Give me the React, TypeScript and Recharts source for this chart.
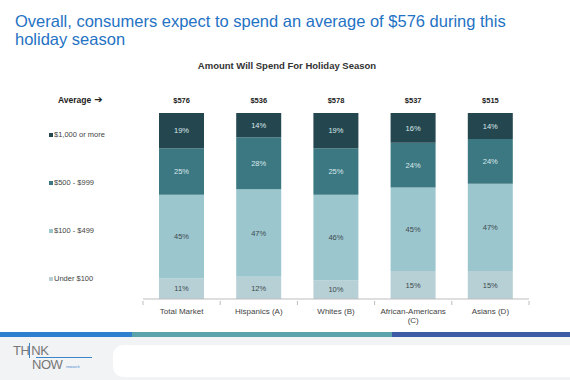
import { BarChart, Bar, XAxis, YAxis, LabelList } from 'recharts';

const categories = ['Total Market', 'Hispanics (A)', 'Whites (B)', 'African-Americans (C)', 'Asians (D)'];
const averages = ['$576', '$536', '$578', '$537', '$515'];
const under100 = [11, 12, 10, 15, 15];
const from100 = [45, 47, 46, 45, 47];
const from500 = [25, 28, 25, 24, 24];
const over1000 = [19, 14, 19, 16, 14];

const legendItems = [
  { name: '$1,000 or more', color: '#24474f' },
  { name: '$500 - $999', color: '#3b7882' },
  { name: '$100 - $499', color: '#9cc6ce' },
  { name: 'Under $100', color: '#b7d0d5' },
];

const data = categories.map((name, i) => ({
  name,
  avg: averages[i],
  under100: under100[i],
  from100: from100[i],
  from500: from500[i],
  over1000: over1000[i],
}));

const font = '"Liberation Sans", Arial, sans-serif';
const pct = (v: number) => `${v}%`;

function CategoryTick({ x, y, payload, index }: any) {
  const half = 386 / categories.length / 2;
  const lines = payload.value === 'African-Americans (C)' ? ['African-Americans', '(C)'] : [payload.value];
  return (
    <g>
      <line x1={x - half} x2={x - half} y1={y - 6} y2={y - 2} stroke="#bdbdbd" />
      {index === categories.length - 1 && (
        <line x1={x + half} x2={x + half} y1={y - 6} y2={y - 2} stroke="#bdbdbd" />
      )}
      {lines.map((l: string, k: number) => (
        <text key={k} x={x} y={y + 7 + k * 9} textAnchor="middle" fontSize={8} fill="#444" fontFamily={font}>
          {l}
        </text>
      ))}
    </g>
  );
}

function AvgTick({ x, y, payload }: any) {
  return (
    <text x={x} y={y} dy={-2} textAnchor="middle" fontSize={7.5} fontWeight="bold" fill="#222" fontFamily={font}>
      {payload.value}
    </text>
  );
}

export default function App() {
  return (
    <div style={{ position: 'absolute', left: 0, top: 0, width: 570, height: 380, background: '#fff', fontFamily: font, overflow: 'hidden' }}>
      <div style={{ position: 'absolute', left: 15, top: 12, fontSize: 16.5, lineHeight: '18px', color: '#1f72c4', width: 540 }}>
        Overall, consumers expect to spend an average of $576 during this
        <br />
        holiday season
      </div>
      <div style={{ position: 'absolute', left: 0, width: 574, top: 60, textAlign: 'center', fontSize: 9.5, fontWeight: 'bold', color: '#333' }}>
        Amount Will Spend For Holiday Season
      </div>
      <div style={{ position: 'absolute', left: 58, top: 95, fontSize: 8.5, fontWeight: 'bold', color: '#222', display: 'flex', alignItems: 'center' }}>
        Average
        <span style={{ fontFamily: '"DejaVu Sans", sans-serif', fontSize: 10, marginLeft: 3, lineHeight: '10px' }}>➔</span>
      </div>
      {legendItems.map((it, i) => (
        <div key={it.name} style={{ position: 'absolute', left: 49, top: 130 + i * 48, fontSize: 7.5, color: '#444', display: 'flex', alignItems: 'center' }}>
          <span style={{ display: 'inline-block', width: 4, height: 4, background: it.color, marginRight: 1 }} />
          {it.name}
        </div>
      ))}
      <div style={{ position: 'absolute', left: 0, top: 0 }}>
        <BarChart width={570} height={330} data={data} margin={{ top: 95, right: 41, left: 143, bottom: 1 }}>
          <XAxis
            dataKey="name"
            height={30}
            interval={0}
            tickLine={false}
            axisLine={{ stroke: '#bdbdbd' }}
            tick={<CategoryTick />}
          />
          <XAxis
            xAxisId="top"
            dataKey="avg"
            orientation="top"
            height={18}
            interval={0}
            tickLine={false}
            axisLine={false}
            tick={<AvgTick />}
          />
          <YAxis hide domain={[0, 100]} allowDataOverflow />
          <Bar dataKey="under100" stackId="a" fill="#b7d0d5" barSize={45} isAnimationActive={false}>
            <LabelList dataKey="under100" formatter={pct} position="center" fontSize={7.5} fill="#3c4a4f" fontFamily={font} />
          </Bar>
          <Bar dataKey="from100" stackId="a" fill="#9cc6ce" barSize={45} isAnimationActive={false}>
            <LabelList dataKey="from100" formatter={pct} position="center" fontSize={7.5} fill="#3c4a4f" fontFamily={font} />
          </Bar>
          <Bar dataKey="from500" stackId="a" fill="#3b7882" barSize={45} isAnimationActive={false}>
            <LabelList dataKey="from500" formatter={pct} position="center" fontSize={7.5} fill="#dbe9ec" fontFamily={font} />
          </Bar>
          <Bar dataKey="over1000" stackId="a" fill="#24474f" barSize={45} isAnimationActive={false}>
            <LabelList dataKey="over1000" formatter={pct} position="center" fontSize={7.5} fill="#dbe9ec" fontFamily={font} />
          </Bar>
        </BarChart>
      </div>
      <div style={{ position: 'absolute', left: 0, top: 332, width: 570, height: 5, display: 'flex' }}>
        <div style={{ width: 132, background: '#2f7fd0' }} />
        <div style={{ width: 260, background: '#5aa3aa' }} />
        <div style={{ flex: 1, background: '#3d5aa6' }} />
      </div>
      <div style={{ position: 'absolute', left: 0, top: 337, width: 570, height: 43, background: '#f2f3f5' }} />
      <div style={{ position: 'absolute', left: 113, top: 345, width: 470, height: 32, background: '#fff', borderRadius: 10 }} />
      <div style={{ position: 'absolute', left: 13, top: 345, fontSize: 13, color: '#777', letterSpacing: -0.5, lineHeight: '12px' }}>
        TH<span style={{ borderLeft: '1px solid #3b86c8', paddingLeft: 1 }}>NK</span>
      </div>
      <div style={{ position: 'absolute', left: 32, top: 359, fontSize: 13, color: '#777', letterSpacing: -0.5, lineHeight: '12px' }}>
        NOW
      </div>
      <div style={{ position: 'absolute', left: 66, top: 365, fontSize: 3.5, color: '#3b86c8', lineHeight: '5px' }}>research</div>
      <div style={{ position: 'absolute', left: 36, top: 357, width: 56, height: 1, background: '#3b86c8' }} />
    </div>
  );
}
